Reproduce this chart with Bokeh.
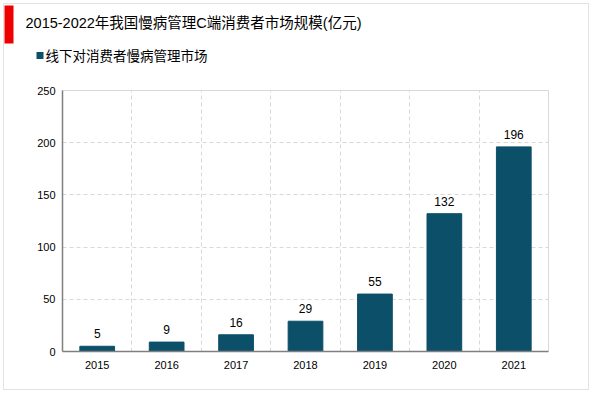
import numpy as np
from bokeh.plotting import figure
from bokeh.layouts import column, row
from bokeh.models import ColumnDataSource, Range1d, FixedTicker, LabelSet
from bokeh.core.properties import value
from bokeh.embed import file_html
from bokeh.resources import INLINE

years = ["2015", "2016", "2017", "2018", "2019", "2020", "2021"]
values = [5, 9, 16, 29, 55, 132, 196]
y_ticks = [0, 50, 100, 150, 200, 250]
title_text = "2015-2022年我国慢病管理C端消费者市场规模(亿元)"
series_name = "线下对消费者慢病管理市场"

FONT = "'Liberation Sans', 'Noto Sans CJK SC', sans-serif"
BAR = "#0b5068"

W = 592
H1 = 70            # header height
H2 = 393 - H1      # main chart height
L, R, T, B = 62, W - 548, 90 - H1, 393 - 351

# ---------------- header (title, red mark, legend) ----------------
h = figure(width=W, height=H1, output_backend="svg", toolbar_location=None,
           x_range=Range1d(0, W), y_range=Range1d(H1, 0),
           x_axis_location=None, y_axis_location=None,
           min_border=0, outline_line_color=None)
h.grid.visible = False
h.border_fill_alpha = 0
h.background_fill_alpha = 0
h.quad(left=[4], right=[13], top=[5], bottom=[43], fill_color="#ee0000", line_color=None)
h.text(x=[25], y=[22.5], text=[title_text], text_font=value(FONT), text_font_size="14.5px",
       text_baseline="middle", text_align="left", text_color="#000000")
h.rect(x=[39.5], y=[55], width=7, height=7, fill_color=BAR, line_color=None)
h.text(x=[45], y=[55.5], text=[series_name], text_font=value(FONT), text_font_size="13.5px",
       text_baseline="middle", text_align="left", text_color="#000000")

# ---------------- main chart ----------------
xs = list(range(len(years)))
src = ColumnDataSource(dict(x=xs, top=values, lab=[str(v) for v in values]))

p = figure(width=W, height=H2, output_backend="svg", toolbar_location=None,
           x_range=Range1d(-0.5, len(years) - 0.5), y_range=Range1d(0, 250),
           min_border_left=L, min_border_right=R, min_border_top=T, min_border_bottom=B)
p.border_fill_alpha = 0
p.outline_line_color = "#d9d9d9"
p.outline_line_width = 1

p.vbar(x="x", top="top", width=0.5, source=src, fill_color=BAR, line_color=BAR,
       legend_label=series_name)
p.legend.visible = False

p.xaxis.ticker = FixedTicker(ticks=xs)
p.xaxis.major_label_overrides = {i: y for i, y in enumerate(years)}
p.yaxis.ticker = FixedTicker(ticks=y_ticks)
for ax in (p.xaxis[0], p.yaxis[0]):
    ax.axis_line_color = "#7f7f7f"
    ax.axis_line_width = 1.5
    ax.major_tick_line_color = None
    ax.minor_tick_line_color = None
    ax.major_tick_out = 0
    ax.major_tick_in = 0
    ax.minor_tick_out = 0
    ax.major_label_text_font = FONT
    ax.major_label_text_font_size = "11px"
    ax.major_label_text_color = "#000000"
p.xaxis.major_label_standoff = 9
p.yaxis.major_label_standoff = 7

p.xgrid.ticker = FixedTicker(ticks=[i + 0.5 for i in range(len(years) - 1)])
p.xgrid.grid_line_color = "#d9d9d9"
p.xgrid.grid_line_dash = "4 3"
p.ygrid.ticker = FixedTicker(ticks=y_ticks[1:-1])
p.ygrid.grid_line_color = "#d9d9d9"
p.ygrid.grid_line_dash = "4 3"

labels = LabelSet(x="x", y="top", text="lab", source=src, y_offset=8,
                  text_align="center", text_baseline="bottom",
                  text_font=value(FONT), text_font_size="12px", text_color="#000000")
p.add_layout(labels)

layout = column(row(h), p, spacing=0,
                styles={"outline": "1.5px solid #e3e3e3", "outline-offset": "-4px"})

open("out.html", "w").write(file_html(layout, INLINE))
